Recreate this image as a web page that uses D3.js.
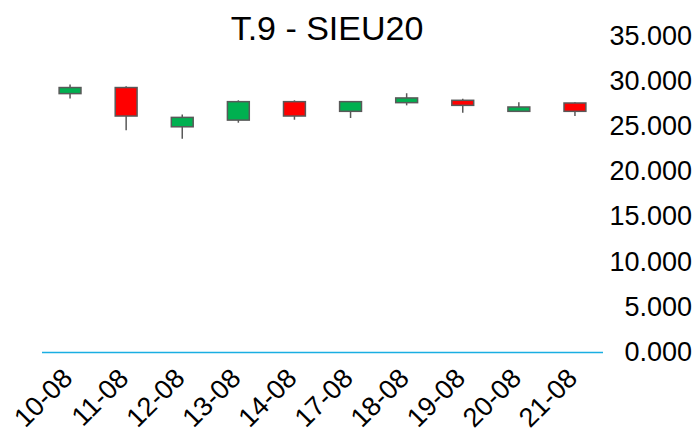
<!DOCTYPE html>
<html>
<head>
<meta charset="utf-8">
<script src="https://cdn.jsdelivr.net/npm/d3@7"></script>
<style>
  body { margin: 0; background: #fff; }
  text { font-family: "Liberation Sans", Arial, sans-serif; fill: #000; }
</style>
</head>
<body>
<script>
// Data.
var dates = ["10-08", "11-08", "12-08", "13-08", "14-08", "17-08", "18-08", "19-08", "20-08", "21-08"],
  opens  = [28630, 29300, 24960, 25700, 27740, 26670, 27630, 27890, 26670, 27590],
  closes = [29300, 26150, 26000, 27740, 26150, 27740, 28150, 27330, 27150, 26670],
  highs  = [29630, 29440, 26330, 27890, 27890, 27740, 28670, 28070, 27670, 27670],
  lows   = [28080, 24590, 23630, 25410, 25740, 25930, 27330, 26520, 26670, 26150],
  yTicks = [0, 5000, 10000, 15000, 20000, 25000, 30000, 35000],
  yTickLabels = ["0.000", "5.000", "10.000", "15.000", "20.000", "25.000", "30.000", "35.000"];

// Configuration.
var width = 696,
  height = 434,
  plotLeft = 42,
  plotRight = 603,
  plotBottom = 352.5,
  plotTop = 36,
  upColor = "#00B050",
  downColor = "#FF0000",
  edgeColor = "#595959";

var svg = d3.select("body").append("svg")
    .attr("width", width)
    .attr("height", height);

var x = d3.scaleBand()
    .domain(dates)
    .range([plotLeft, plotRight]),
  y = d3.scaleLinear()
    .domain([0, 35000])
    .range([plotBottom, plotTop]);

var candles = dates.map(function(d, i) {
  return { date: d, open: opens[i], close: closes[i], high: highs[i], low: lows[i] };
});

// Title.
svg.append("text")
    .attr("x", 327)
    .attr("y", 40)
    .attr("text-anchor", "middle")
    .style("font-size", "34px")
    .text("T.9 - SIEU20");

// Zero line.
svg.append("line")
    .attr("x1", plotLeft)
    .attr("x2", plotRight)
    .attr("y1", y(0))
    .attr("y2", y(0))
    .style("stroke", "#1AAEE2")
    .style("stroke-width", 1.5);

// Right-hand value labels.
var yAxis = d3.axisRight(y)
    .tickValues(yTicks)
    .tickSize(0)
    .tickFormat(function(d, i) { return yTickLabels[i]; });

var yG = svg.append("g")
    .attr("transform", "translate(692,0)")
    .call(yAxis);
yG.select(".domain").remove();
yG.selectAll("text")
    .attr("x", 0)
    .attr("dy", "0.3em")
    .attr("text-anchor", "end")
    .style("font-family", '"Liberation Sans", Arial, sans-serif')
    .style("font-size", "27px")
    .style("fill", "#000");

// Date labels, rotated.
svg.append("g").selectAll("text")
    .data(dates)
  .enter().append("text")
    .attr("transform", function(d) {
      return "translate(" + (x(d) + x.bandwidth() / 2 + 4) + ",380) rotate(-45)";
    })
    .attr("text-anchor", "end")
    .style("font-size", "27px")
    .text(function(d) { return d; });

// Candles.
var boxW = x.bandwidth() * 0.39;
var g = svg.append("g").selectAll("g")
    .data(candles)
  .enter().append("g");

g.append("line")
    .attr("x1", function(d) { return x(d.date) + x.bandwidth() / 2; })
    .attr("x2", function(d) { return x(d.date) + x.bandwidth() / 2; })
    .attr("y1", function(d) { return y(d.high); })
    .attr("y2", function(d) { return y(d.low); })
    .style("stroke", edgeColor)
    .style("stroke-width", 1.5);

g.append("rect")
    .attr("x", function(d) { return x(d.date) + (x.bandwidth() - boxW) / 2; })
    .attr("width", boxW)
    .attr("y", function(d) { return y(Math.max(d.open, d.close)); })
    .attr("height", function(d) { return Math.abs(y(d.open) - y(d.close)); })
    .style("fill", function(d) { return d.close >= d.open ? upColor : downColor; })
    .style("stroke", edgeColor)
    .style("stroke-width", 1.5);
</script>
</body>
</html>
